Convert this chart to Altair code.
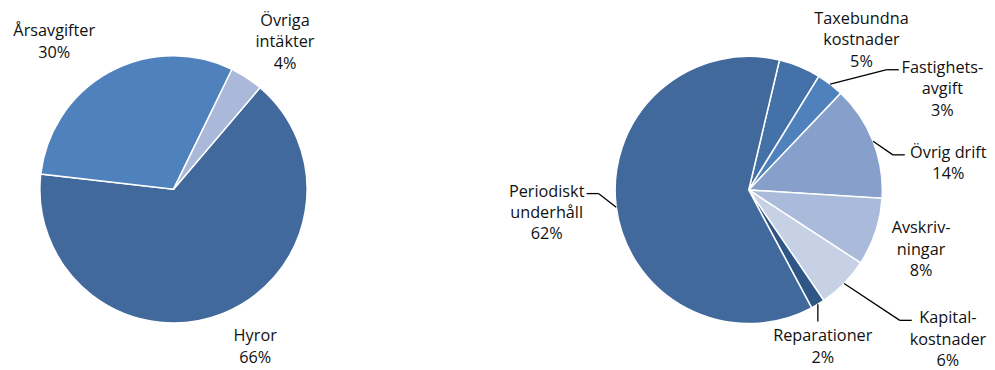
import math
import altair as alt
import pandas as pd

# ---------------- data ----------------
inc_cat = ["Hyror", "Årsavgifter", "Övriga intäkter"]
inc_val = [65.6, 30.4, 4.0]
inc_pct = [66, 30, 4]
inc_names = ["Hyror", "Årsavgifter", "Övriga\nintäkter"]
inc_colors = ["#41699b", "#4f81bd", "#aab9d9"]

exp_cat = ["Taxebundna kostnader", "Fastighetsavgift", "Övrig drift", "Avskrivningar",
           "Kapitalkostnader", "Reparationer", "Periodiskt underhåll"]
exp_val = [5.1, 3.3, 13.9, 8.2, 6.3, 1.7, 61.5]
exp_pct = [5, 3, 14, 8, 6, 2, 62]
exp_names = ["Taxebundna\nkostnader", "Fastighets-\navgift", "Övrig drift", "Avskriv-\nningar",
             "Kapital-\nkostnader", "Reparationer", "Periodiskt\nunderhåll"]
exp_colors = ["#4571a9", "#4f81bd", "#86a0cb", "#a9badb", "#c6d1e5", "#2f5684", "#41699b"]

# ---------------- layout ----------------
W, H = 979, 354
R = 134
LH = 21.5
pies = [
    dict(cx=166, cy=181.3, start=40.4, cats=inc_cat, vals=inc_val, pct=inc_pct,
         names=inc_names, colors=inc_colors),
    dict(cx=743, cy=182.0, start=13.3, cats=exp_cat, vals=exp_val, pct=exp_pct,
         names=exp_names, colors=exp_colors),
]
# label placement: (angle offset from slice mid-angle in degrees, distance from centre)
label_place = {
    "Hyror": (-5.9, 178), "Årsavgifter": (-10.3, 190), "Övriga intäkter": (4.0, 185),
    "Taxebundna kostnader": (14.5, 188), "Fastighetsavgift": (24.9, 219),
    "Övrig drift": (13.9, 202), "Avskrivningar": (0.8, 183), "Kapitalkostnader": (-7.5, 250),
    "Reparationer": (5.9, 174), "Periodiskt underhåll": (0.9, 204),
}
leaders = {"Fastighetsavgift": "h", "Övrig drift": "h", "Kapitalkostnader": "h",
           "Reparationer": "v", "Periodiskt underhåll": "h"}

arc_rows, txt_rows, seg_rows = [], [], []
for p in pies:
    cum = p["start"]
    for cat, v, pc, nm, col in zip(p["cats"], p["vals"], p["pct"], p["names"], p["colors"]):
        a0 = cum
        a1 = cum + v * 3.6
        cum = a1
        mid = (a0 + a1) / 2
        arc_rows.append(dict(cat=cat, cx=p["cx"], cy=p["cy"], a0=math.radians(a0),
                             a1=math.radians(a1), color=col))
        off, d = label_place[cat]
        la = math.radians(mid + off)
        lx = p["cx"] + d * math.sin(la)
        ly = p["cy"] - d * math.cos(la)
        lines = nm.split("\n") + [f"{pc}%"]
        n = len(lines)
        for i, t in enumerate(lines):
            txt_rows.append(dict(x=lx, y=ly + (i - (n - 1) / 2) * LH, t=t))
        kind = leaders.get(cat)
        if kind:
            m = math.radians(mid)
            ex = p["cx"] + R * math.sin(m)
            ey = p["cy"] - R * math.cos(m)
            if kind == "h":
                side = 1 if math.sin(m) > 0 else -1
                hw = max(len(s) for s in lines) * 3.7
                endx = lx - side * (hw + 3)
                y0 = ly - (n - 1) / 2 * LH + 2
                elx = endx - side * 12
                seg_rows.append(dict(x=ex, y=ey, x2=elx, y2=y0))
                seg_rows.append(dict(x=elx, y=y0, x2=endx, y2=y0))
            else:
                top = ly - n / 2 * LH
                seg_rows.append(dict(x=ex, y=ey, x2=ex, y2=top - 4))

arcs = pd.DataFrame(arc_rows)
texts = pd.DataFrame(txt_rows)
segs = pd.DataFrame(seg_rows)

xs = alt.Scale(domain=[0, W], range=[0, W], nice=False, zero=False)
ys = alt.Scale(domain=[0, H], range=[0, H], nice=False, zero=False)

arc_layer = alt.Chart(arcs).mark_arc(outerRadius=R, stroke="white", strokeWidth=1.5).encode(
    x=alt.X("cx:Q", scale=xs, axis=None),
    y=alt.Y("cy:Q", scale=ys, axis=None),
    theta=alt.Theta("a0:Q", scale=None),
    theta2="a1:Q",
    color=alt.Color("color:N", scale=None),
)

seg_layer = alt.Chart(segs).mark_rule(color="#000000", strokeWidth=1.3).encode(
    x=alt.X("x:Q", scale=xs, axis=None),
    y=alt.Y("y:Q", scale=ys, axis=None),
    x2="x2:Q",
    y2="y2:Q",
)

txt_layer = alt.Chart(texts).mark_text(
    align="center", baseline="middle", font="Open Sans", fontSize=16.3, color="#111111"
).encode(
    x=alt.X("x:Q", scale=xs, axis=None),
    y=alt.Y("y:Q", scale=ys, axis=None),
    text="t:N",
)

chart = alt.layer(arc_layer, seg_layer, txt_layer).properties(
    width=W, height=H, padding=0, background="white"
).configure_view(stroke=None)

chart.save("out.html", embed_options={"renderer": "svg", "actions": False})
